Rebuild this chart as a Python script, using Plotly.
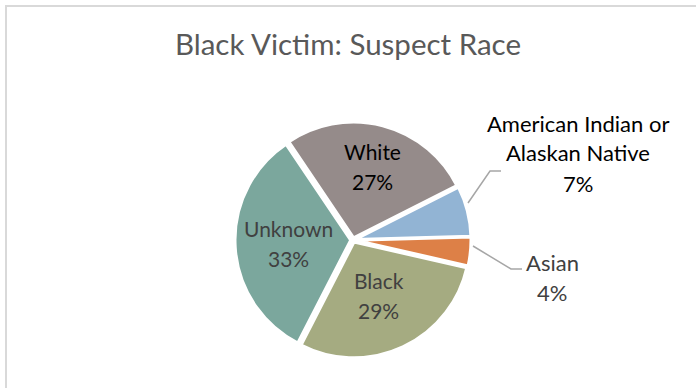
import math
import plotly.graph_objects as go

# ---- data ----
categories = ["White", "American Indian or Alaskan Native", "Asian", "Black", "Unknown"]
percentages = [27, 7, 4, 29, 33]
label_lines = [["White"], ["American Indian or", "Alaskan Native"], ["Asian"], ["Black"], ["Unknown"]]
title_text = "Black Victim: Suspect Race"

# ---- style ----
W, H = 696, 388
colors = ["#958B8A", "#92B4D4", "#DD8047", "#A5AB81", "#7BA79D"]
text_colors = ["#000000", "#000000", "#404040", "#404040", "#404040"]
FONT = "Lato"
ROT = -34
CX, CY, R = 353, 240, 118   # pie geometry in pixels
PULL = 0.02

def px(x):
    return x / W

def py(y):
    return 1 - y / H

fig = go.Figure(go.Pie(
    labels=categories,
    values=percentages,
    sort=False,
    direction="clockwise",
    rotation=ROT,
    pull=[PULL] * len(categories),
    marker=dict(colors=colors, line=dict(color="white", width=3)),
    textinfo="none",
    hoverinfo="label+percent",
    showlegend=False,
    domain=dict(x=[px(CX - R), px(CX + R)], y=[py(CY + R), py(CY - R)]),
))

annotations = []
total = sum(percentages)
cum = 0
inside_rf = {0: 0.64, 3: 0.52, 4: 0.55}
outside_pos = {1: (578, 123), 2: (552, 262)}
LINE_H = 30
for i, (cat, v) in enumerate(zip(categories, percentages)):
    lines = label_lines[i] + [f"{v}%"]
    if i in inside_rf:
        theta = math.radians(ROT + 360 * (cum + v / 2) / total)
        rr = inside_rf[i] * R
        lx = CX + rr * math.sin(theta)
        ly = CY - rr * math.cos(theta) - (len(lines) - 1) * LINE_H / 2
        fs = 21
    else:
        lx, ly = outside_pos[i]
        fs = 22
    for k, t in enumerate(lines):
        annotations.append(dict(
            x=px(lx), y=py(ly + k * LINE_H), xref="paper", yref="paper",
            text=t, showarrow=False, xanchor="center", yanchor="middle",
            font=dict(family=FONT, size=fs, color=text_colors[i]),
        ))
    cum += v

shapes = [
    # chart area border
    dict(type="rect", xref="paper", yref="paper", x0=px(6), x1=px(W + 10), y0=py(H + 10), y1=py(6),
         line=dict(color="#D9D9D9", width=2), fillcolor="rgba(0,0,0,0)", layer="below"),
    # leader lines
    dict(type="path", xref="paper", yref="paper",
         path=f"M {px(468)} {py(203)} L {px(490)} {py(171)} L {px(501)} {py(171)}",
         line=dict(color="#A6A6A6", width=1.5)),
    dict(type="path", xref="paper", yref="paper",
         path=f"M {px(473)} {py(246)} L {px(511)} {py(269)} L {px(522)} {py(269)}",
         line=dict(color="#A6A6A6", width=1.5)),
]

fig.update_layout(
    width=W, height=H,
    margin=dict(l=0, r=0, t=0, b=0),
    paper_bgcolor="white",
    title=dict(text=title_text, x=0.5, xanchor="center", xref="paper",
               y=py(45), yref="container", yanchor="middle",
               font=dict(family=FONT, size=29.5, color="#595959")),
    annotations=annotations,
    shapes=shapes,
)

fig.write_html("out.html", config={"displayModeBar": False},
               post_script="document.body.style.margin='0px';")
